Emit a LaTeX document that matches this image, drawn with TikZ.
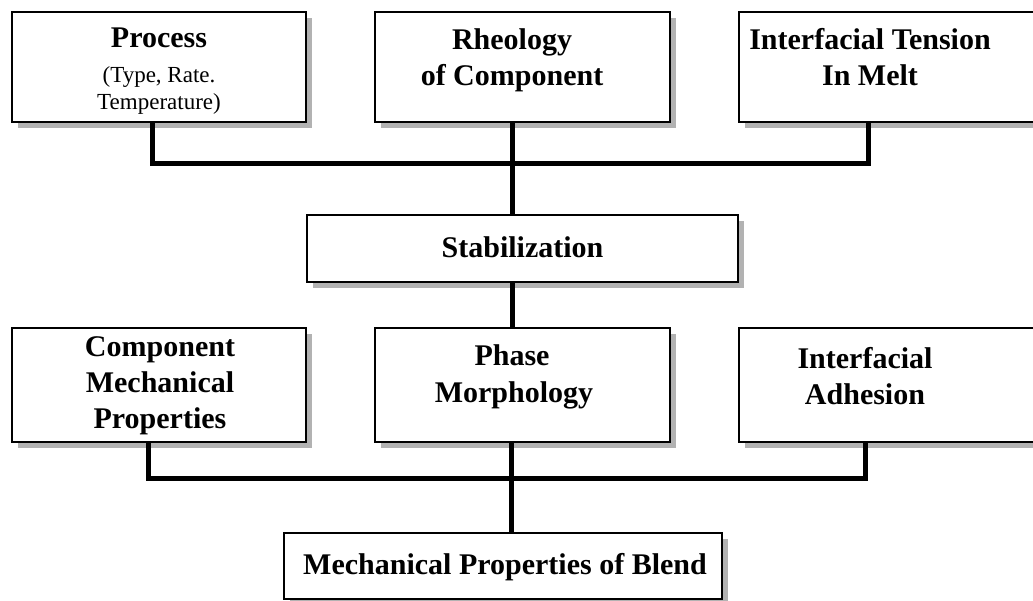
\documentclass[tikz,border=0pt]{standalone}
\usepackage{fontspec}
\setmainfont{Liberation Serif}
\usetikzlibrary{shadows}
\begin{document}
\begin{tikzpicture}[x=1pt,y=-1pt,
  box/.style={draw, line width=2pt, fill=white, inner sep=0pt,
    drop shadow={shadow xshift=6pt, shadow yshift=-6pt, fill=gray!60, opacity=1}},
  bus/.style={line width=5pt, line join=miter},
  bt/.style={anchor=base, inner sep=0pt, font=\fontsize{30}{36}\selectfont\bfseries},
  rt/.style={anchor=base, inner sep=0pt, font=\fontsize{23}{27}\selectfont}]
\useasboundingbox (0,0) rectangle (1033,601);
% boxes
\node[box, minimum width=294pt, minimum height=110pt] (proc) at (159,67) {};
\node[box, minimum width=295pt, minimum height=110pt] (rheo) at (522.5,67) {};
\node[box, minimum width=305pt, minimum height=110pt] (tens) at (891.5,67) {};
\node[box, minimum width=431pt, minimum height=67pt] (stab) at (522.5,248.5) {};
\node[box, minimum width=294pt, minimum height=114pt] (comp) at (159,385) {};
\node[box, minimum width=295pt, minimum height=114pt] (phase) at (522.5,385) {};
\node[box, minimum width=305pt, minimum height=114pt] (adh) at (891.5,385) {};
\node[box, minimum width=438pt, minimum height=66pt] (blend) at (503,566) {};
% texts
\node[bt] (tp1) at (159,48) {Process};
\node[rt] (tp2) at (159,83) {(Type, Rate.};
\node[rt] (tp3) at (159,110) {Temperature)};
\node[bt] (tr1) at (512,50) {Rheology};
\node[bt] (tr2) at (512,86) {of Component};
\node[bt] (tt1) at (870,50) {Interfacial Tension};
\node[bt] (tt2) at (870,86) {In Melt};
\node[bt] (ts) at (522.5,258) {Stabilization};
\node[bt] (tc1) at (160,356) {Component};
\node[bt] (tc2) at (160,392) {Mechanical};
\node[bt] (tc3) at (160,428) {Properties};
\node[bt] (tph1) at (512,366) {Phase};
\node[bt] (tph2) at (514,402) {Morphology};
\node[bt] (ta1) at (865,368) {Interfacial};
\node[bt] (ta2) at (865,404) {Adhesion};
\node[bt] (tb) at (505,574) {Mechanical Properties of Blend};
% junctions
\coordinate (t1) at (152,163.5);
\coordinate (t2) at (512,163.5);
\coordinate (t3) at (868,163.5);
\coordinate (b1) at (148,478);
\coordinate (b2) at (511,478);
\coordinate (b3) at (865,478);
% connectors
\draw[bus] (proc.south -| t1) -- (t1) -- (t3) -- (tens.south -| t3);
\draw[bus] (rheo.south -| t2) -- (t2) -- (stab.north -| t2);
\draw[bus] (stab.south -| t2) -- (phase.north -| t2);
\draw[bus] (comp.south -| b1) -- (b1) -- (b3) -- (adh.south -| b3);
\draw[bus] (phase.south -| b2) -- (blend.north -| b2);
\end{tikzpicture}
\end{document}
